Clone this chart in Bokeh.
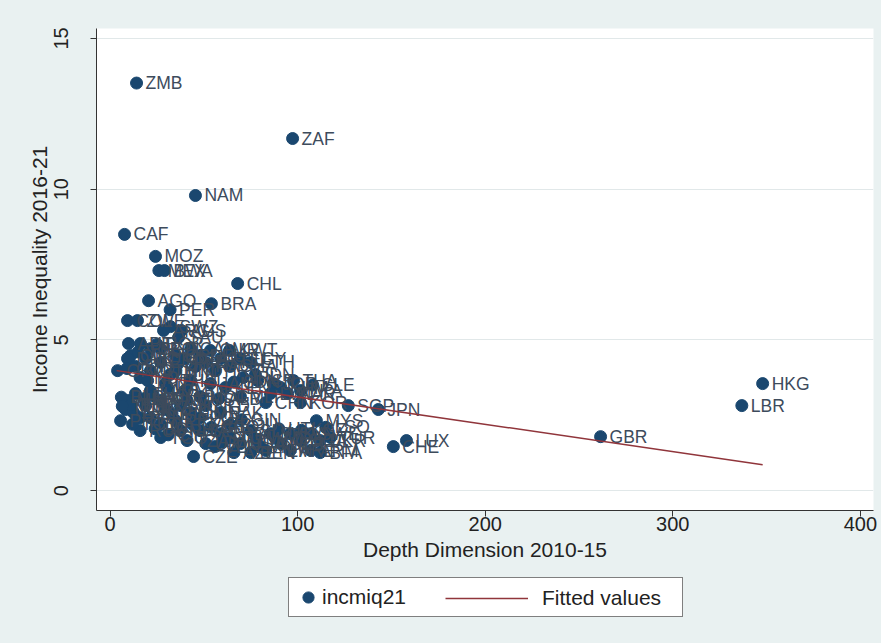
from bokeh.plotting import figure
from bokeh.layouts import column
from bokeh.models import ColumnDataSource, Legend, LegendItem, Range1d
from bokeh.embed import file_html
from bokeh.resources import INLINE
from bokeh.core.properties import value

# ---- data ----
labeled_codes = ["ZMB", "ZAF", "NAM", "CAF", "MOZ", "MEX", "BWA", "CHL", "AGO", "BRA",
                 "PER", "COL", "ZWE", "SWZ", "SAU", "KWT", "THA", "CHN", "KOR", "SGP",
                 "JPN", "MYS", "LUX", "CHE", "GBR", "HKG", "LBR", "CZE"]
labeled_depth = [14.1, 97.3, 45.5, 7.7, 24.2, 26.0, 29.0, 68.0, 20.5, 54.0,
                 32.0, 9.3, 14.6, 32.2, 36.5, 63.7, 97.8, 83.0, 101.5, 127.0,
                 143.0, 110.0, 158.0, 151.0, 261.5, 347.9, 336.8, 44.5]
labeled_ineq = [13.52, 11.68, 9.79, 8.50, 7.77, 7.30, 7.30, 6.87, 6.30, 6.20,
                6.00, 5.64, 5.64, 5.44, 5.08, 4.65, 3.65, 2.92, 2.92, 2.82,
                2.69, 2.32, 1.66, 1.46, 1.79, 3.55, 2.82, 1.13]

cluster_codes = ["ARG", "AUS", "AUT", "BEL", "BGR", "BGD", "BOL", "CAN", "CMR", "CIV",
                 "CRI", "DEU", "DNK", "DOM", "DZA", "ECU", "EGY", "ESP", "EST", "ETH",
                 "FIN", "FRA", "GHA", "GRC", "GTM", "HND", "HRV", "HUN", "IDN", "IND",
                 "IRL", "IRN", "ISL", "ISR", "ITA", "JAM", "JOR", "KAZ", "KEN", "KHM",
                 "LAO", "LBN", "LKA", "LTU", "LVA", "MAR", "MDG", "MLI", "MMR", "MNG",
                 "MWI", "NER", "NGA", "NIC", "NLD", "NOR", "NPL", "NZL", "OMN", "PAK",
                 "PAN", "PHL", "POL", "PRT", "PRY", "QAT", "ROU", "RUS", "RWA", "SEN",
                 "SLV", "SRB", "SVK", "SVN", "SWE", "TGO", "TUN", "TUR", "TZA", "UGA",
                 "UKR", "URY", "USA", "UZB", "VEN", "VNM", "YEM", "ARE", "ARM", "AZE",
                 "BEN", "BFA", "BHR", "BLR", "BIH", "BDI", "CYP", "GAB", "GEO", "GIN",
                 "HTI", "KGZ", "LSO", "MDA", "MKD", "MLT", "MUS", "ALB", "SDN", "SLE",
                 "SYR", "TJK", "TTO", "TCD", "COD"]
cluster_depth = [28.5, 38.0, 9.8, 16.2, 25.0, 21.5, 27.0, 43.0, 53.5, 11.0,
                 35.0, 48.0, 9.3, 19.0, 40.0, 59.0, 69.5, 27.0, 51.0, 75.0,
                 13.5, 45.5, 64.0, 4.0, 21.5, 35.0, 56.0, 32.0, 77.5, 16.0,
                 71.0, 20.0, 43.0, 78.7, 29.5, 53.5, 87.0, 30.7, 61.5, 91.0,
                 21.5, 40.0, 101.5, 13.5, 85.5, 94.7, 48.0, 69.5, 9.3, 27.0,
                 18.0, 23.0, 19.0, 37.5, 51.0, 8.3, 29.5, 12.5, 43.0, 59.0,
                 16.0, 21.5, 48.0, 5.6, 35.0, 27.0, 64.0, 16.0, 37.5, 48.0,
                 75.0, 59.0, 85.5, 96.0, 107.0, 27.0, 64.0, 117.5, 41.0, 101.5,
                 112.0, 51.0, 69.5, 91.0, 56.0, 80.0, 83.0, 96.0, 107.0, 66.0,
                 75.0, 112.0, 11.0, 6.0, 33.0, 24.0, 31.0, 44.0, 54.0, 70.0,
                 90.0, 102.0, 115.0, 88.0, 78.0, 60.0, 41.0, 58.0, 66.0, 108.0,
                 36.0, 15.0, 6.5, 12.0, 9.0]
cluster_ineq = [5.31, 5.31, 4.88, 4.88, 4.85, 4.71, 4.71, 4.71, 4.65, 4.48,
                4.48, 4.48, 4.38, 4.38, 4.38, 4.38, 4.38, 4.25, 4.25, 4.25,
                4.12, 4.12, 4.12, 3.98, 3.98, 3.98, 3.98, 3.85, 3.85, 3.75,
                3.75, 3.65, 3.65, 3.65, 3.55, 3.55, 3.55, 3.42, 3.42, 3.42,
                3.32, 3.32, 3.32, 3.22, 3.22, 3.22, 3.12, 3.12, 2.99, 2.99,
                3.05, 3.15, 2.82, 2.82, 2.82, 2.69, 2.69, 2.59, 2.59, 2.59,
                2.42, 2.42, 2.42, 2.32, 2.32, 2.19, 2.19, 1.99, 1.99, 1.99,
                1.99, 1.89, 1.89, 1.89, 1.89, 1.76, 1.76, 1.76, 1.66, 1.66,
                1.66, 1.56, 1.56, 1.56, 1.46, 1.46, 1.33, 1.33, 1.33, 1.26,
                1.26, 1.26, 2.85, 3.10, 2.55, 2.05, 1.85, 2.20, 2.10, 2.35,
                2.05, 2.00, 2.10, 1.75, 1.70, 1.60, 3.00, 3.05, 3.60, 3.50,
                4.20, 4.60, 2.80, 2.20, 4.05]

# fitted values line (linear fit as drawn in the reference)
fit_depth = [3.5, 347.9]
fit_ineq = [3.98, 0.86]

x_ticks = [0, 100, 200, 300, 400]
y_ticks = [0, 5, 10, 15]

# ---- styling ----
NAVY = "#1a476f"
MAROON = "#90353b"
BG = "#e9f1f1"
FONT = "Liberation Sans"

n = min(len(cluster_codes), len(cluster_depth), len(cluster_ineq))
codes = labeled_codes + cluster_codes[:n]
depth = labeled_depth + cluster_depth[:n]
ineq = labeled_ineq + cluster_ineq[:n]
src = ColumnDataSource(data=dict(x=depth, y=ineq, code=codes))
fit_src = ColumnDataSource(data=dict(x=fit_depth, y=fit_ineq))

# ---- main chart ----
p = figure(width=881, height=568, output_backend="svg", toolbar_location=None,
           x_range=Range1d(-7.25, 407), y_range=Range1d(-0.66, 15.33),
           min_border_left=96, min_border_right=8, min_border_top=28,
           min_border_bottom=58)
p.background_fill_color = "white"
p.border_fill_color = BG
p.outline_line_color = None

r_pts = p.scatter("x", "y", source=src, size=12, fill_color=NAVY, line_color=NAVY)
p.text("x", "y", text="code", source=src, x_offset=9, text_baseline="middle",
       text_font=value(FONT), text_font_size="17.5px", text_color="#3d4b5c")
r_fit = p.line("x", "y", source=fit_src, line_color=MAROON, line_width=1.5)

p.xaxis.ticker = x_ticks
p.yaxis.ticker = y_ticks
p.xgrid.visible = False
p.ygrid.grid_line_color = "#e1e8e9"
p.ygrid.grid_line_width = 1

for ax in (p.xaxis[0], p.yaxis[0]):
    ax.axis_line_color = "#333333"
    ax.major_tick_line_color = "#333333"
    ax.major_tick_out = 6
    ax.major_tick_in = 0
    ax.minor_tick_line_color = None
    ax.major_label_text_font = FONT
    ax.major_label_text_font_size = "20px"
    ax.major_label_text_color = "#222222"
    ax.axis_label_text_font = FONT
    ax.axis_label_text_font_size = "21px"
    ax.axis_label_text_font_style = "normal"
    ax.axis_label_text_color = "#222222"

p.xaxis.axis_label = "Depth Dimension 2010-15"
p.yaxis.axis_label = "Income Inequality 2016-21"
p.yaxis.major_label_orientation = "vertical"
p.xaxis.major_label_standoff = 0
p.xaxis.axis_label_standoff = 4
p.yaxis.major_label_standoff = 22
p.yaxis.axis_label_standoff = 1

# ---- legend strip (same series and styles; the data lie outside its view) ----
leg_fig = figure(width=881, height=75, output_backend="svg", toolbar_location=None,
                 x_axis_type=None, y_axis_type=None,
                 x_range=Range1d(1000, 1001), y_range=Range1d(1000, 1001),
                 min_border_left=0, min_border_right=0, min_border_top=0,
                 min_border_bottom=0)
leg_fig.background_fill_color = BG
leg_fig.border_fill_color = BG
leg_fig.outline_line_color = None
leg_fig.grid.visible = False
lg_pts = leg_fig.scatter("x", "y", source=src, size=12, fill_color=NAVY, line_color=NAVY)
lg_fit = leg_fig.line("x", "y", source=fit_src, line_color=MAROON, line_width=1.5)

legA = Legend(items=[LegendItem(label="incmiq21", renderers=[lg_pts])],
              location=(192, 26), orientation="horizontal",
              glyph_width=28, glyph_height=28, label_standoff=0,
              label_width=355, label_height=24, padding=5, margin=0,
              border_line_color="black", border_line_width=1,
              background_fill_color="white", background_fill_alpha=1,
              label_text_font=FONT, label_text_font_size="21px",
              label_text_color="#222222")
legB = Legend(items=[LegendItem(label="Fitted values", renderers=[lg_fit])],
              location=(349, 33), orientation="horizontal",
              glyph_width=83, glyph_height=24, label_standoff=14,
              label_height=24, padding=0, margin=0,
              border_line_color=None, background_fill_alpha=0,
              label_text_font=FONT, label_text_font_size="21px",
              label_text_color="#222222")
leg_fig.add_layout(legA, "center")
leg_fig.add_layout(legB, "center")

layout = column(p, leg_fig, spacing=0)
layout.styles = {"background-color": BG}
open("out.html", "w").write(file_html(layout, INLINE))
